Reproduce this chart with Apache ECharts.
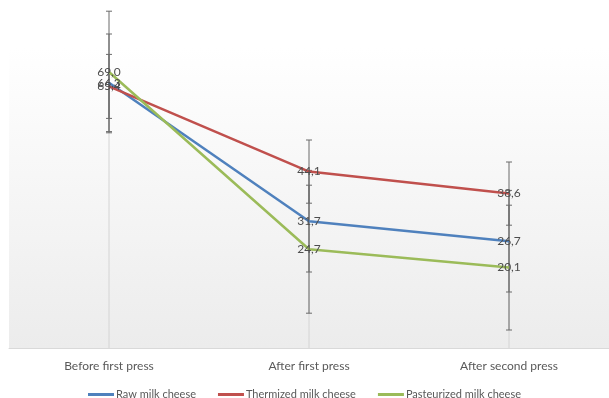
<!DOCTYPE html>
<html>
<head>
<meta charset="utf-8">
<script src="https://cdn.jsdelivr.net/npm/echarts@6/dist/echarts.min.js"></script>
<style>html,body{margin:0;padding:0;background:#fff}#c{width:609px;height:398px}</style>
</head>
<body>
<div id="c"></div>
<script>
var categories = ['Before first press', 'After first press', 'After second press'];
var seriesNames = ['Raw milk cheese', 'Thermized milk cheese', 'Pasteurized milk cheese'];
var rawValues = [66.3, 31.7, 26.7];
var thermValues = [65.4, 44.1, 38.6];
var pastValues = [69.0, 24.7, 20.1];
var rawErr = [12.2, 12.7, 12.7];
var thermErr = [8.0, 7.9, 7.9];
var pastErr = [15.2, 16.0, 15.6];
var colors = ['#4F81BD', '#C0504D', '#9BBB59'];

var values = [rawValues, thermValues, pastValues];
var errs = [rawErr, thermErr, pastErr];
var FONT = 'Lato, "Open Sans", sans-serif';

var chart = echarts.init(document.getElementById('c'), null, {renderer: 'canvas'});

function errData(v, e) {
  return v.map(function (val, i) { return [i, val - e[i], val + e[i]]; });
}
function renderErr(params, api) {
  var x = api.value(0);
  var lo = api.coord([x, api.value(1)]);
  var hi = api.coord([x, api.value(2)]);
  var st = {stroke: '#6b6b6b', lineWidth: 1};
  return {
    type: 'group',
    children: [
      {type: 'line', shape: {x1: lo[0], y1: lo[1], x2: hi[0], y2: hi[1]}, style: st},
      {type: 'line', shape: {x1: lo[0] - 3, y1: lo[1], x2: lo[0] + 3, y2: lo[1]}, style: st},
      {type: 'line', shape: {x1: hi[0] - 3, y1: hi[1], x2: hi[0] + 3, y2: hi[1]}, style: st}
    ]
  };
}
var dropData = categories.map(function (c, i) {
  return [i, Math.max(rawValues[i], thermValues[i], pastValues[i])];
});
function renderDrop(params, api) {
  var x = api.value(0);
  var top = api.coord([x, api.value(1)]);
  var bot = api.coord([x, 0]);
  return {type: 'line', shape: {x1: top[0], y1: top[1], x2: bot[0], y2: bot[1]},
    style: {stroke: '#d4d4d4', lineWidth: 1}};
}

var series = [];
series.push({type: 'custom', name: 'drop', renderItem: renderDrop, data: dropData, clip: false, silent: true, z: 1});
values.forEach(function (v, k) {
  series.push({type: 'custom', name: 'err' + k, renderItem: renderErr, data: errData(v, errs[k]), clip: false, silent: true, z: 2});
});
values.forEach(function (v, k) {
  series.push({
    type: 'line', name: seriesNames[k], data: v, z: 3,
    symbol: 'circle', symbolSize: 1, showSymbol: true,
    itemStyle: {color: 'rgba(0,0,0,0)'},
    lineStyle: {color: colors[k], width: 2.5},
    label: {
      show: true, position: 'inside', color: '#4d4d4d', fontSize: 12, fontFamily: FONT,
      formatter: function (p) { return p.value.toFixed(1).replace('.', ','); }
    }
  });
});

chart.setOption({
  animation: false,
  backgroundColor: '#ffffff',
  grid: {
    left: 9, top: 48, width: 604, height: 300, show: true, borderWidth: 0,
    backgroundColor: new echarts.graphic.LinearGradient(0, 0, 0, 1, [
      {offset: 0, color: '#ffffff'}, {offset: 1, color: '#ececec'}
    ])
  },
  legend: {
    data: seriesNames.map(function (n, k) { return {name: n, icon: 'rect', itemStyle: {color: colors[k]}}; }),
    top: 384, left: 'center', itemWidth: 26, itemHeight: 3, itemGap: 22,
    textStyle: {color: '#595959', fontSize: 11, fontFamily: FONT, padding: [0, 0, 0, -3]}
  },
  xAxis: {
    type: 'category', data: categories, boundaryGap: true,
    axisLine: {lineStyle: {color: '#d9d9d9', width: 1}},
    axisTick: {show: false},
    axisLabel: {color: '#595959', fontSize: 12, fontFamily: FONT, margin: 12},
    splitLine: {show: false}
  },
  yAxis: {
    type: 'value', min: 0, max: 75, show: false, splitLine: {show: false}
  },
  series: series
});
</script>
</body>
</html>
